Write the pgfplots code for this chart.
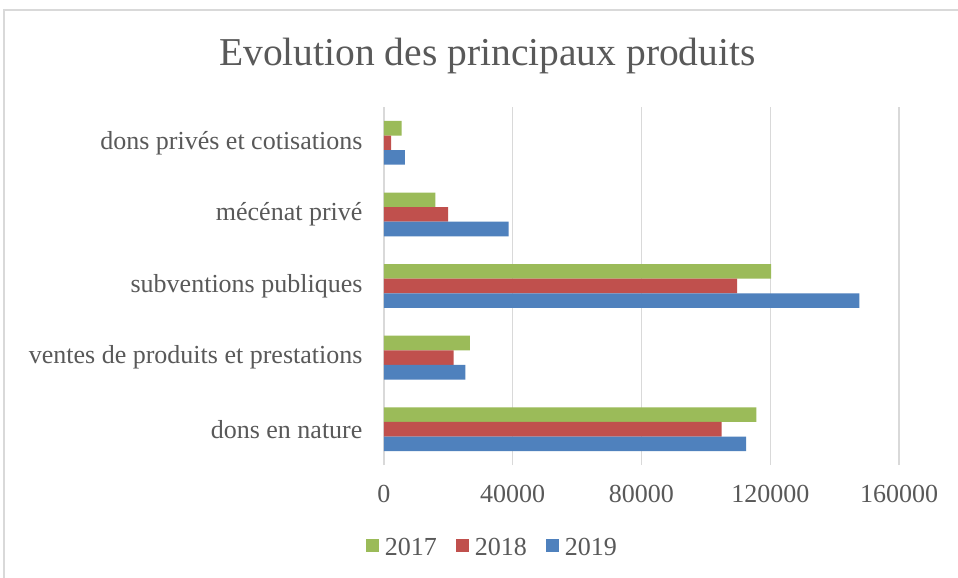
\documentclass[border=0pt]{standalone}
\usepackage{fontspec}
\setmainfont{Liberation Serif}
\usepackage{pgfplots}
\pgfplotsset{compat=1.18}
\definecolor{c17}{HTML}{9BBB59}
\definecolor{c18}{HTML}{C0504D}
\definecolor{c19}{HTML}{4F81BD}
\definecolor{gridc}{HTML}{D9D9D9}
\definecolor{txt}{HTML}{595959}

\begin{document}
\begin{tikzpicture}
\useasboundingbox (-384pt,-113pt) rectangle (574pt,465pt);
\fill[white] (-384pt,-113pt) rectangle (574pt,465pt);
\draw[gridc, line width=1.5pt] (-380pt,-113pt) -- (-380pt,455pt) -- (574pt,455pt);
\begin{axis}[
    at={(0,0)}, anchor=south west,
    scale only axis, width=515pt, height=358pt,
    xbar, bar width=14.6pt,
    xmin=0, xmax=160000, ymin=-0.5, ymax=4.5,
    xtick={0,40000,80000,120000,160000},
    xticklabels={0,40000,80000,120000,160000},
    scaled x ticks=false,
    ytick={0,1,2,3,4},
    yticklabels={dons en nature, ventes de produits et prestations, subventions publiques, mécénat privé, dons privés et cotisations},
    axis line style={draw=none},
    major tick length=0pt,
    xmajorgrids, ymajorgrids=false,
    grid style={gridc, line width=1.5pt},
    tick label style={font=\fontsize{26}{30}\selectfont, text=txt},
    xticklabel style={yshift=-17pt},
    yticklabel style={xshift=-18pt},
    legend image code/.code={\fill[#1] (0pt,-3.7pt) rectangle (13pt,9.3pt);},
    legend style={at={(0.2087,-0.2318)}, anchor=center, draw=none, fill=none,
        legend columns=-1, font=\fontsize{26}{30}\selectfont, text=txt,
        nodes={inner sep=0pt},
        /tikz/every odd column/.append style={column sep=6pt},
        /tikz/every even column/.append style={column sep=19pt}},
]
\addplot[fill=c17, draw=none, bar shift=14.6pt] coordinates {
    (115700,0) (26700,1) (120300,2) (16000,3) (5500,4)};
\addlegendentry{2017}
\addplot[fill=c18, draw=none, bar shift=0pt] coordinates {
    (104900,0) (21600,1) (109700,2) (19900,3) (2200,4)};
\addlegendentry{2018}
\addplot[fill=c19, draw=none, bar shift=-14.6pt] coordinates {
    (112500,0) (25300,1) (147700,2) (38700,3) (6500,4)};
\addlegendentry{2019}
\end{axis}
\node[anchor=base, font=\fontsize{39.5}{46}\selectfont, text=txt] at (103.5pt,399pt) {Evolution des principaux produits};
\end{tikzpicture}
\end{document}
